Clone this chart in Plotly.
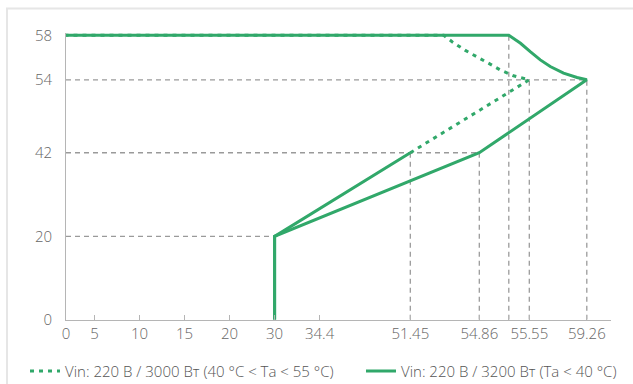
import numpy as np
import plotly.graph_objects as go

# ---- axis tick values / labels (the axes are non-linear in the original) ----
x_ticks = [0, 5, 10, 15, 20, 30, 34.4, 51.45, 54.86, 55.2, 55.55, 59.26]
x_labels = ["0", "5", "10", "15", "20", "30", "34.4", "51.45", "54.86", "", "55.55", "59.26"]
y_ticks = [0, 20, 42, 54, 58]
y_labels = ["0", "20", "42", "54", "58"]

# ---- series ----
# Vin: 220 B / 3200 Вт (Ta < 40 °C)
s3200_x = [30, 30, 54.86, 59.26, 58.63, 57.76, 56.90, 56.26, 55.61, 55.40, 55.2, 0]
s3200_y = [0, 20, 42, 54, 54.21, 54.60, 55.19, 55.79, 56.53, 57.28, 58, 58]
# Vin: 220 B / 3000 Вт (40 °C < Ta < 55 °C)
s3000_x = [30, 30, 51.45, 55.55, 55.28, 55.10, 54.98, 54.76, 54.17, 53.53, 53.10, 0]
s3000_y = [0, 20, 42, 54, 54.36, 54.89, 55.43, 56.01, 56.64, 57.40, 58, 58]
s3000_split = 2  # solid up to this point, dotted afterwards

# ---- guide lines ----
guide_h_y = [20, 42, 54]
guide_h_xend = [30, 54.86, 59.26]
guide_v_x = [51.45, 54.86, 55.2, 55.55, 59.26]
guide_v_yend = [42, 42, 58, 54, 54]

# ---- axis scale (piecewise-linear display scale) ----
X_SCALE = [0, 28.6, 73.6, 118.6, 163.6, 208.6, 253.6, 344.3, 413.3, 442.8, 463.3, 520.8]
Y_SCALE = [0, 83.7, 167.7, 241, 285.7]


def sx(v):
    return list(np.interp(v, x_ticks, X_SCALE))


def sy(v):
    return list(np.interp(v, y_ticks, Y_SCALE))


GREEN = "#31a86a"
GRID = "#9a9a9a"
FONT = "Open Sans"
TICKFONT = dict(family=FONT, size=15, color="#666", weight=300)
LEGFONT = dict(family=FONT, size=15, color="#555", weight=300)

fig = go.Figure()

for yv, xe in zip(guide_h_y, guide_h_xend):
    fig.add_trace(go.Scatter(x=sx([0, xe]), y=sy([yv, yv]), mode="lines",
                             line=dict(color=GRID, width=1.3, dash="5px,4px"),
                             showlegend=False, hoverinfo="skip"))
for xv, ye in zip(guide_v_x, guide_v_yend):
    fig.add_trace(go.Scatter(x=sx([xv, xv]), y=sy([0, ye]), mode="lines",
                             line=dict(color=GRID, width=1.3, dash="5px,4px"),
                             showlegend=False, hoverinfo="skip"))

fig.add_trace(go.Scatter(x=sx(s3000_x[s3000_split:]), y=sy(s3000_y[s3000_split:]),
                         mode="lines", name="Vin: 220 B / 3000 Вт (40 °C < Ta < 55 °C)",
                         line=dict(color=GREEN, width=3, dash="4px,5px"), legend="legend"))
fig.add_trace(go.Scatter(x=sx(s3000_x[:s3000_split + 1]), y=sy(s3000_y[:s3000_split + 1]),
                         mode="lines", showlegend=False,
                         line=dict(color=GREEN, width=3)))
fig.add_trace(go.Scatter(x=sx(s3200_x), y=sy(s3200_y), mode="lines",
                         name="Vin: 220 B / 3200 Вт (Ta < 40 °C)",
                         line=dict(color=GREEN, width=3), legend="legend2"))

fig.update_layout(
    width=633, height=384,
    margin=dict(l=66, r=22, t=33, b=63),
    paper_bgcolor="white", plot_bgcolor="white",
    font=dict(family=FONT, size=15, color="#666"),
    xaxis=dict(range=[0, 545], tickvals=sx(x_ticks), ticktext=x_labels,
               showgrid=False, zeroline=False, showline=True, linecolor="#b5b5b5",
               linewidth=1, ticks="inside", ticklen=5, tickcolor="#b5b5b5",
               tickfont=TICKFONT),
    yaxis=dict(range=[0, 288], tickvals=sy(y_ticks), ticktext=y_labels,
               showgrid=False, zeroline=False, showline=True, linecolor="#b5b5b5",
               linewidth=1, ticks="", ticklabelstandoff=10,
               tickfont=TICKFONT),
    legend=dict(orientation="h", xref="container", yref="container",
                x=0.0395, y=0.0334, xanchor="left", yanchor="middle",
                font=LEGFONT, bgcolor="rgba(0,0,0,0)"),
    legend2=dict(orientation="h", xref="container", yref="container",
                 x=0.5703, y=0.0334, xanchor="left", yanchor="middle",
                 font=LEGFONT, bgcolor="rgba(0,0,0,0)"),
    shapes=[dict(type="rect", xref="paper", yref="paper",
                 x0=(7 - 66) / 545, x1=1.2, y0=-0.5, y1=(321 - 8.5) / 288,
                 line=dict(color="#e6e6e6", width=2), fillcolor="rgba(0,0,0,0)", layer="below")],
    showlegend=True,
)

fig.write_html("out.html", config={"displayModeBar": False},
               post_script="document.body.style.margin='0';")
